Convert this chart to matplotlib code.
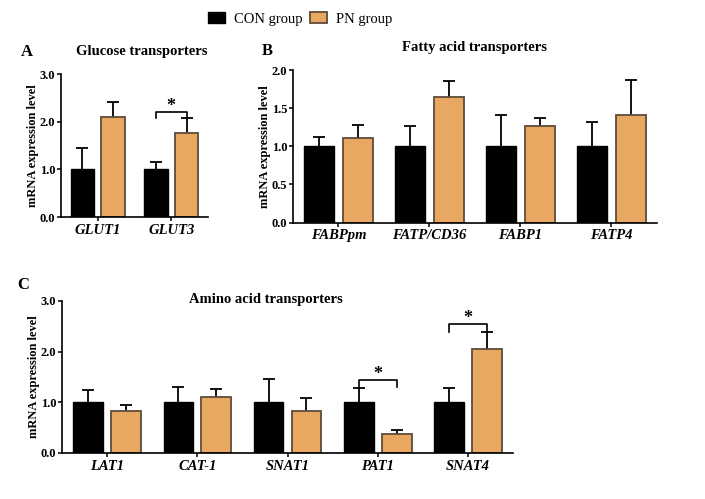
import numpy as np
import matplotlib.pyplot as plt
from matplotlib.patches import Patch

plt.rcParams['font.family'] = ['Liberation Serif', 'DejaVu Serif']
plt.rcParams['font.weight'] = 'bold'

# colours
con_color = 'black'
pn_color = '#E8A862'
pn_edge = '#5E4B38'

# Panel A - glucose transporters
glut_genes = ['GLUT1', 'GLUT3']
glut_con = [1.0, 1.0]
glut_con_err = [0.44, 0.15]
glut_pn = [2.09, 1.77]
glut_pn_err = [0.33, 0.30]

# Panel B - fatty acid transporters
fa_genes = ['FABPpm', 'FATP/CD36', 'FABP1', 'FATP4']
fa_con = [1.0, 1.0, 1.0, 1.0]
fa_con_err = [0.12, 0.26, 0.41, 0.32]
fa_pn = [1.11, 1.65, 1.26, 1.41]
fa_pn_err = [0.17, 0.20, 0.11, 0.46]

# Panel C - amino acid transporters
aa_genes = ['LAT1', 'CAT-1', 'SNAT1', 'PAT1', 'SNAT4']
aa_con = [1.0, 1.0, 1.0, 1.0, 1.0]
aa_con_err = [0.25, 0.31, 0.47, 0.29, 0.28]
aa_pn = [0.83, 1.105, 0.82, 0.38, 2.05]
aa_pn_err = [0.11, 0.155, 0.27, 0.07, 0.33]

# significance: (category index, bracket height, leg bottom)
glut_sig = [(1, 2.21, 2.07)]
aa_sig = [(3, 1.44, 1.30), (4, 2.55, 2.39)]

fig = plt.figure(figsize=(7.05, 4.99), dpi=100)


def panel(rect, genes, con, con_err, pn, pn_err, ymax, yticks, title, title_x,
          title_y, letter, letter_xy, sig=(), width=0.33, off=0.21):
    ax = fig.add_axes(rect)
    x = np.arange(len(genes))
    ax.bar(x - off, con, width, color=con_color, edgecolor=con_color, lw=1, zorder=2)
    ax.bar(x + off, pn, width, color=pn_color, edgecolor=pn_edge, lw=1.3, zorder=2)
    # symmetric error bars drawn behind the bars, so only the upper half shows
    ax.errorbar(x - off, con, yerr=con_err, fmt='none',
                ecolor='black', elinewidth=1.3, capsize=4.3, capthick=1.3, zorder=1)
    ax.errorbar(x + off, pn, yerr=pn_err, fmt='none',
                ecolor='black', elinewidth=1.3, capsize=4.3, capthick=1.3, zorder=1)
    for i, h, low in sig:
        ax.plot([i - off, i - off, i + off, i + off], [low, h, h, low],
                color='black', lw=1.2, clip_on=False)
        ax.text(i, h + 0.1 * ymax / 3, '*', ha='center', va='center',
                fontsize=13, fontweight='bold')
    ax.set_xlim(-0.5, len(genes) - 0.5)
    ax.set_ylim(0, ymax)
    ax.set_yticks(yticks)
    ax.set_yticklabels(['%.1f' % t for t in yticks], fontsize=9, fontweight='bold')
    ax.set_xticks(x)
    ax.set_xticklabels(genes, fontsize=10.5, fontweight='bold', style='italic')
    ax.set_ylabel('mRNA expression level', fontsize=9, fontweight='bold', labelpad=1)
    for s in ['top', 'right']:
        ax.spines[s].set_visible(False)
    for s in ['left', 'bottom']:
        ax.spines[s].set_linewidth(1.2)
    ax.tick_params(axis='y', length=3, width=1.1, pad=1)
    ax.tick_params(axis='x', length=3, width=1.1, pad=2)
    fig.text(title_x, title_y, title, ha='center', va='center', fontsize=10.5,
             fontweight='bold')
    fig.text(letter_xy[0], letter_xy[1], letter, ha='center', va='center',
             fontsize=12, fontweight='bold')
    return ax


panel([0.0865, 0.5651, 0.2085, 0.2866], glut_genes, glut_con, glut_con_err,
      glut_pn, glut_pn_err, 3.0, [0, 1, 2, 3], 'Glucose transporters',
      142 / 705, 1 - 51 / 499, 'A', (27 / 705, 1 - 52 / 499), sig=glut_sig,
      width=0.32, off=0.21)

panel([0.4156, 0.554, 0.5163, 0.3056], fa_genes, fa_con, fa_con_err,
      fa_pn, fa_pn_err, 2.0, [0, 0.5, 1, 1.5, 2], 'Fatty acid transporters',
      475 / 705, 1 - 48 / 499, 'B', (267 / 705, 1 - 51 / 499))

panel([0.088, 0.0922, 0.6397, 0.3046], aa_genes, aa_con, aa_con_err,
      aa_pn, aa_pn_err, 3.0, [0, 1, 2, 3], 'Amino acid transporters',
      266 / 705, 1 - 299 / 499, 'C', (23 / 705, 1 - 285 / 499), sig=aa_sig)

handles = [Patch(facecolor=con_color, edgecolor=con_color),
           Patch(facecolor=pn_color, edgecolor=pn_edge, lw=1.3)]
fig.legend(handles, ['CON group', 'PN group'], loc='center',
           bbox_to_anchor=(300 / 705, 1 - 19 / 499), ncol=2, frameon=False,
           prop={'family': 'Liberation Serif', 'weight': 'normal', 'size': 10.5},
           handlelength=1.2, handleheight=0.7, handletextpad=0.6, columnspacing=0.5)

fig.savefig('out.png', dpi=100)
